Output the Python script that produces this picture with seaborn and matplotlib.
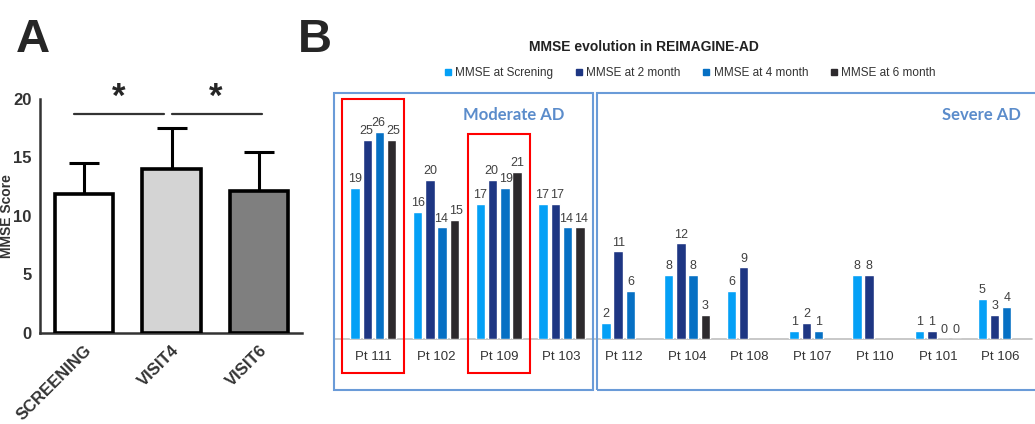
import numpy as np
import pandas as pd
import matplotlib
matplotlib.use("Agg")
import matplotlib.pyplot as plt
from matplotlib.patches import Rectangle
from matplotlib.lines import Line2D
import seaborn as sns

# ---------------- data ----------------
visits = ["SCREENING", "VISIT4", "VISIT6"]
visit_means = [11.9, 14.0, 12.1]
visit_sd = [2.6, 3.5, 3.4]
visit_colors = ["#FFFFFF", "#D4D4D4", "#7F7F7F"]

patients = ["Pt 111", "Pt 102", "Pt 109", "Pt 103", "Pt 112", "Pt 104",
            "Pt 108", "Pt 107", "Pt 110", "Pt 101", "Pt 106"]
series_names = ["MMSE at Screning", "MMSE at 2 month", "MMSE at 4 month", "MMSE at 6 month"]
mmse_screening = [19, 16, 17, 17, 2, 8, 6, 1, 8, 1, 5]
mmse_2month = [25, 20, 20, 17, 11, 12, 9, 2, 8, 1, 3]
mmse_4month = [26, 14, 19, 14, 6, 8, np.nan, 1, np.nan, 0, 4]
mmse_6month = [25, 15, 21, 14, np.nan, 3, np.nan, np.nan, np.nan, 0, np.nan]
series_colors = ["#04A0F6", "#1E3683", "#0670C4", "#2D2A2D"]

sns.set_style("white")
plt.rcParams["font.family"] = ["Liberation Sans", "DejaVu Sans"]

W, H = 1035, 424
fig = plt.figure(figsize=(W / 100, H / 100), dpi=100)

def fx(px):
    return px / W

def fy(py):
    return 1 - py / H

# ---------------- panel A ----------------
axA = fig.add_axes([fx(40), fy(333), fx(302) - fx(40), fy(99) - fy(333)])
dfA = pd.DataFrame({"visit": visits, "score": visit_means})
sns.barplot(data=dfA, x="visit", y="score", hue="visit", palette=visit_colors,
            legend=False, edgecolor="black", linewidth=2.6, width=0.67, ax=axA,
            errorbar=None, saturation=1)
xs = np.arange(len(visits))
axA.errorbar(xs, visit_means, yerr=[np.zeros(len(visits)), visit_sd], fmt="none",
             ecolor="black", elinewidth=2.2, capsize=11, capthick=2.2, zorder=1)
for bar in axA.patches:
    bar.set_zorder(3)
axA.set_xlim(-0.503, 2.49)
axA.set_ylim(0, 20)
axA.set_yticks([0, 5, 10, 15, 20])
axA.set_xlabel("")
axA.set_ylabel("")
for s in ["top", "right"]:
    axA.spines[s].set_visible(False)
for s in ["left", "bottom"]:
    axA.spines[s].set_linewidth(1.8)
    axA.spines[s].set_color("#333333")
axA.tick_params(axis="both", which="both", direction="out", length=5, width=1.8,
                color="#333333", labelcolor="#333333")
axA.tick_params(axis="y", labelsize=12, pad=1)
axA.tick_params(axis="x", labelsize=12, pad=2)
for lab in axA.get_yticklabels():
    lab.set_fontweight("bold")
for lab in axA.get_xticklabels():
    lab.set_fontweight("bold")
    lab.set_rotation(45)
    lab.set_ha("right")
    lab.set_rotation_mode("anchor")
# significance bars
axA.plot([-0.11, 0.91], [18.7, 18.7], color="#333333", lw=1.6, clip_on=False)
axA.plot([1.0, 2.03], [18.7, 18.7], color="#333333", lw=1.6, clip_on=False)
axA.text(0.4, 20.15, "*", ha="center", va="center", fontsize=25, fontweight="bold")
axA.text(1.5, 20.15, "*", ha="center", va="center", fontsize=25, fontweight="bold")
fig.text(fx(7), fy(216), "MMSE Score", rotation=90, ha="center", va="center",
         fontsize=10, fontweight="bold", color="#333333")

fig.text(fx(33), fy(40), "A", ha="center", va="center", fontsize=34, fontweight="bold")
fig.text(fx(315), fy(40), "B", ha="center", va="center", fontsize=34, fontweight="bold")

# ---------------- panel B ----------------
axB = fig.add_axes([fx(342), fy(339), fx(1032) - fx(342), fy(100) - fy(339)])
dfB = pd.DataFrame({
    "patient": np.repeat(patients, len(series_names)),
    "series": series_names * len(patients),
    "value": np.column_stack([mmse_screening, mmse_2month, mmse_4month, mmse_6month]).ravel(),
}).dropna()
sns.barplot(data=dfB, x="patient", y="value", hue="series", order=patients,
            hue_order=series_names, palette=series_colors, width=0.78, gap=0.23,
            errorbar=None, ax=axB, legend=False, saturation=1)
label_pad = 2
anns = []
for cont in axB.containers:
    anns += axB.bar_label(cont, labels=[f"{int(round(b.get_height()))}" for b in cont],
                          padding=label_pad, fontsize=9, color="#404040")
axB.set_ylim(0, 30)
axB.set_xlim(-0.5, len(patients) - 0.5)
axB.set_xlabel("")
axB.set_ylabel("")
axB.set_yticks([])
for s in ["top", "right", "left", "bottom"]:
    axB.spines[s].set_visible(False)
axB.plot([-0.62, len(patients) - 0.5], [0, 0], color="#BFBFBF", lw=1.2, clip_on=False, zorder=0)
axB.tick_params(axis="x", length=0, pad=9, labelsize=9.5, labelcolor="#333333")

# title and legend
fig.text(fx(644), fy(47), "MMSE evolution in REIMAGINE-AD", ha="center", va="center",
         fontsize=10, fontweight="bold", color="#222222")
handles = [Line2D([], [], marker="s", color=c, linestyle="none", markersize=4.5)
           for c in series_colors]
fig.legend(handles, series_names, loc="center", bbox_to_anchor=(fx(690), fy(73)),
           ncol=4, frameon=False, fontsize=8.5, handlelength=0.6, handletextpad=0.3,
           columnspacing=1.9, labelcolor="#333333")

# nudge neighbouring bar labels apart where they collide
fig.canvas.draw()
renderer = fig.canvas.get_renderer()
anns_sorted = sorted(anns, key=lambda a: a.get_window_extent(renderer).x0)
for a1, a2 in zip(anns_sorted[:-1], anns_sorted[1:]):
    b1 = a1.get_window_extent(renderer)
    b2 = a2.get_window_extent(renderer)
    if b1.x1 > b2.x0 - 0.5 and b1.y0 < b2.y1 and b2.y0 < b1.y1:
        ov = (b1.x1 - b2.x0 + 1.0) / 2 * 72 / fig.dpi
        x1o, y1o = a1.xyann
        x2o, y2o = a2.xyann
        a1.xyann = (x1o - ov, y1o)
        a2.xyann = (x2o + ov, y2o)

# group boxes
box_color = "#6A9BD8"
fig.patches.append(Rectangle((fx(334), fy(390)), fx(593) - fx(334), fy(93) - fy(390),
                             transform=fig.transFigure, fill=False, ec=box_color, lw=1.5))
fig.patches.append(Rectangle((fx(597), fy(390)), fx(1040) - fx(597), fy(93) - fy(390),
                             transform=fig.transFigure, fill=False, ec=box_color, lw=1.5))
fig.patches.append(Rectangle((fx(342), fy(373)), fx(404) - fx(342), fy(99) - fy(373),
                             transform=fig.transFigure, fill=False, ec="#FF0000", lw=1.5))
fig.patches.append(Rectangle((fx(468), fy(373)), fx(530) - fx(468), fy(134) - fy(373),
                             transform=fig.transFigure, fill=False, ec="#FF0000", lw=1.5))
fig.text(fx(514), fy(115), "Moderate AD", ha="center", va="center", fontsize=12,
         fontweight="bold", color="#5B8CCB", family=["Lato", "DejaVu Sans"])
fig.text(fx(981), fy(115), "Severe AD", ha="center", va="center", fontsize=12,
         fontweight="bold", color="#5B8CCB", family=["Lato", "DejaVu Sans"])

fig.savefig("out.png", dpi=100)
